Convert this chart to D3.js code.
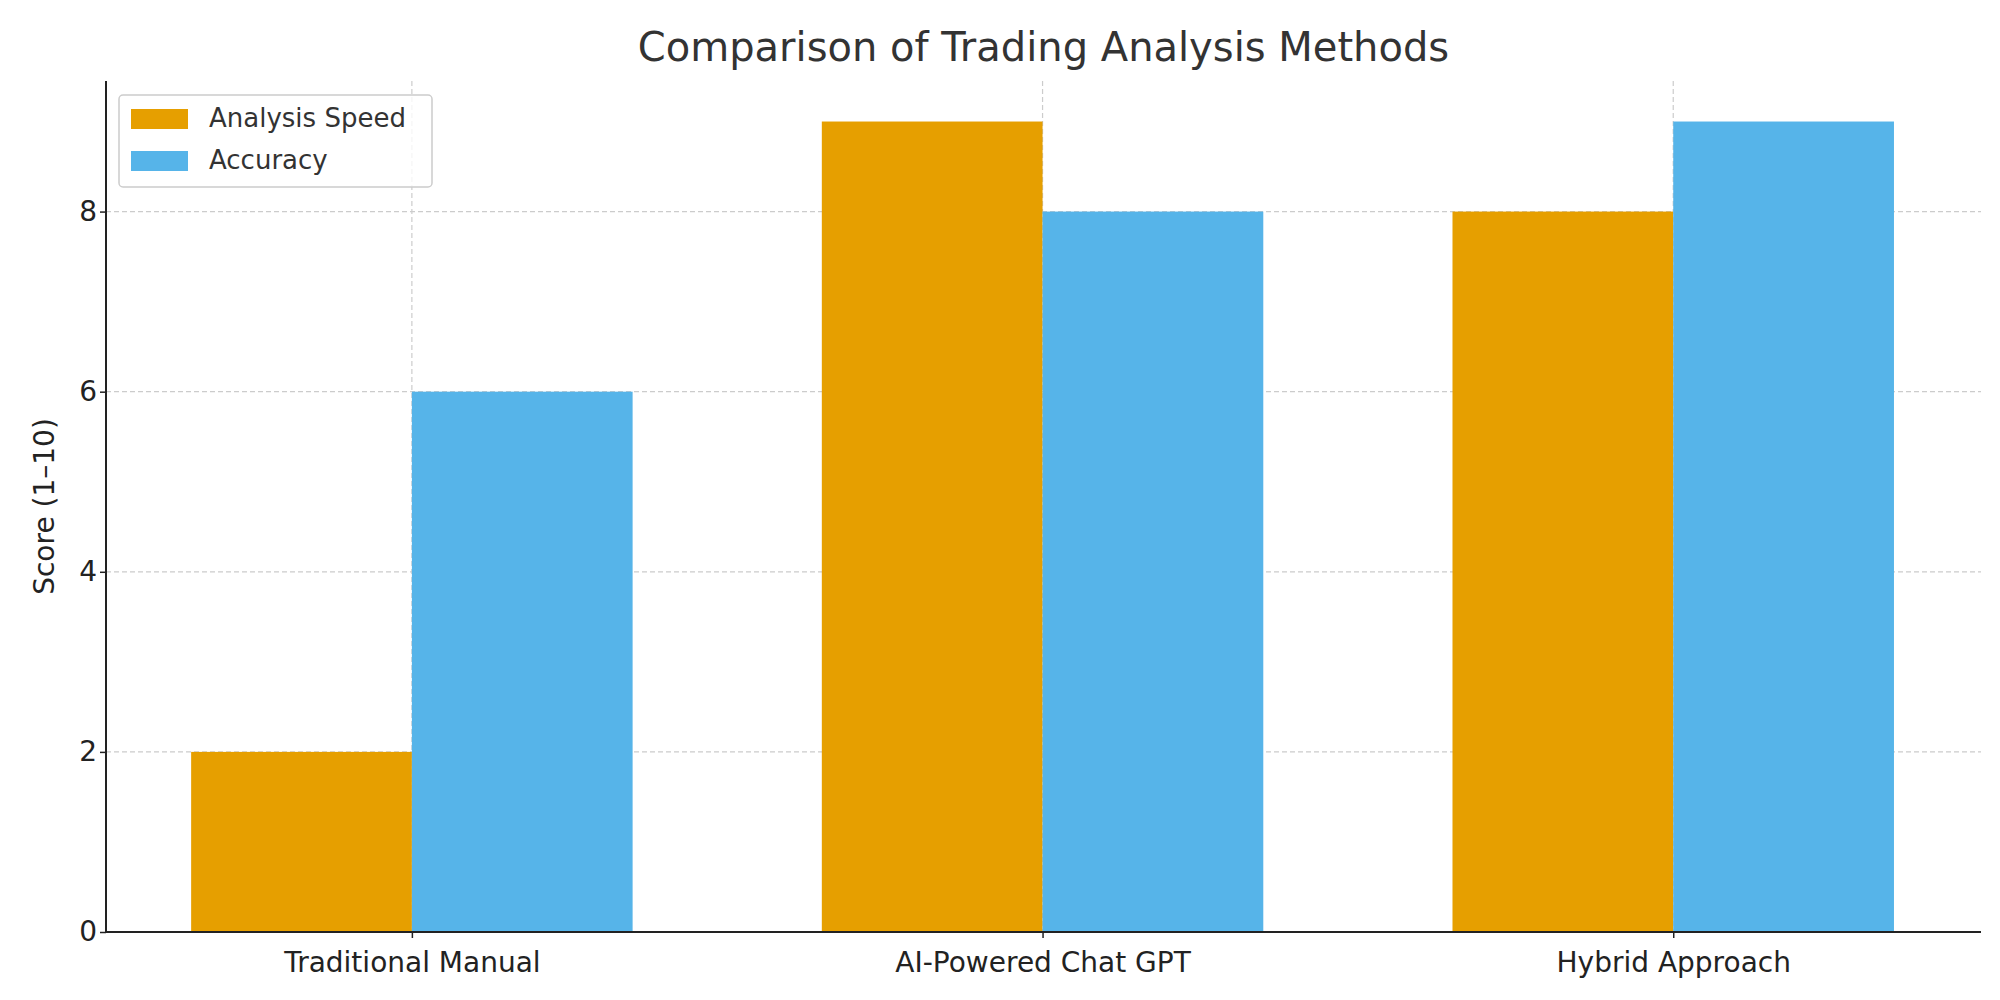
<!DOCTYPE html>
<html>
<head>
<style>body{margin:0;background:#fff;}</style>
</head>
<body>
<svg width="2000" height="1000"></svg>
<script src="https://d3js.org/d3.v7.min.js"></script>
<script>
const categories = ["Traditional Manual", "AI-Powered Chat GPT", "Hybrid Approach"];
const speed = [2, 9, 8];
const accuracy = [6, 8, 9];
const seriesNames = ["Analysis Speed", "Accuracy"];
const colors = ["#E69F00", "#56B4E9"];
const yTicks = [0, 2, 4, 6, 8];

const pLeft = 106, pRight = 1981, pTop = 81, pBottom = 932;
const font = "DejaVu Sans, sans-serif";
const svg = d3.select("svg");

const x = d3.scaleLinear().domain([-0.485, 2.488]).range([pLeft, pRight]);
const y = d3.scaleLinear().domain([0, 9.45]).range([pBottom, pTop]);
const bw = 0.35;

// grid
svg.append("g").selectAll("line").data(yTicks.slice(1)).enter().append("line")
    .attr("x1", pLeft).attr("x2", pRight).attr("y1", d => y(d)).attr("y2", d => y(d))
    .attr("stroke", "#ccc").attr("stroke-dasharray", "5,3").attr("stroke-width", 1.2);
svg.append("g").selectAll("line").data(categories).enter().append("line")
    .attr("x1", (d, i) => x(i)).attr("x2", (d, i) => x(i)).attr("y1", pTop).attr("y2", pBottom)
    .attr("stroke", "#ccc").attr("stroke-dasharray", "5,3").attr("stroke-width", 1.2);

[speed, accuracy].forEach((vals, s) => {
    svg.append("g").selectAll("rect").data(vals).enter().append("rect")
        .attr("x", (d, i) => x(i - bw + s * bw))
        .attr("width", x(bw) - x(0))
        .attr("y", d => y(d))
        .attr("height", d => pBottom - y(d))
        .attr("fill", colors[s]);
});

const xAxis = svg.append("g").attr("transform", `translate(0,${pBottom})`)
    .call(d3.axisBottom(x).tickValues([0, 1, 2]).tickFormat(i => categories[i]).tickSize(6));
const yAxis = svg.append("g").attr("transform", `translate(${pLeft},0)`)
    .call(d3.axisLeft(y).tickValues(yTicks).tickSize(6));
[xAxis, yAxis].forEach(a => {
    a.selectAll("text").attr("font-family", font).attr("font-size", 28).attr("fill", "#222");
    a.selectAll("line").attr("stroke", "#222").attr("stroke-width", 1.5);
    a.select(".domain").attr("stroke", "#222").attr("stroke-width", 2);
});
xAxis.selectAll("text").attr("dy", "1.1em");
yAxis.select(".domain").attr("d", `M0,${pTop}V${pBottom}`);
xAxis.select(".domain").attr("d", `M${pLeft},0H${pRight}`);

svg.append("text").attr("x", (pLeft + pRight) / 2).attr("y", 61).attr("text-anchor", "middle")
    .attr("font-family", font).attr("font-size", 40).attr("fill", "#333")
    .text("Comparison of Trading Analysis Methods");
svg.append("text").attr("transform", `translate(54,${(pTop + pBottom) / 2}) rotate(-90)`)
    .attr("text-anchor", "middle").attr("font-family", font).attr("font-size", 28).attr("fill", "#222")
    .text("Score (1–10)");

// legend
const lg = svg.append("g").attr("transform", "translate(119,95)");
lg.append("rect").attr("width", 313).attr("height", 92).attr("rx", 4)
    .attr("fill", "#fff").attr("fill-opacity", 0.8).attr("stroke", "#ccc").attr("stroke-width", 1.5);
seriesNames.forEach((n, i) => {
    lg.append("rect").attr("x", 12).attr("y", 14 + i * 42).attr("width", 57).attr("height", 20).attr("fill", colors[i]);
    lg.append("text").attr("x", 90).attr("y", 32 + i * 42).attr("font-family", font).attr("font-size", 26)
        .attr("fill", "#333").text(n);
});
</script>
</body>
</html>
